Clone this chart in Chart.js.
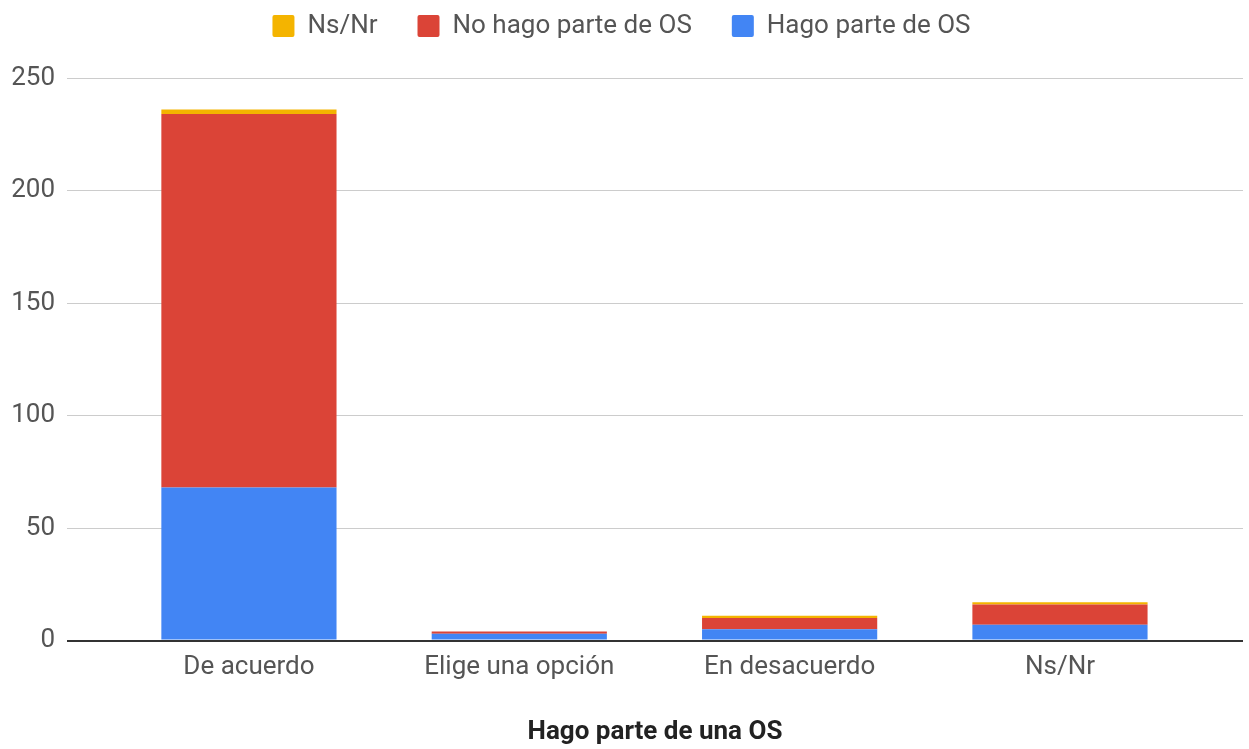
<!DOCTYPE html>
<html>
<head>
<meta charset="utf-8">
<script src="https://cdn.jsdelivr.net/npm/chart.js@4.4.1/dist/chart.umd.min.js"></script>
<style>
html,body{margin:0;padding:0;background:#fff;}
#wrap{width:1249px;height:749px;}
</style>
</head>
<body>
<div id="wrap"><canvas id="c" width="1249" height="749"></canvas></div>
<script>
const categories = ["De acuerdo", "Elige una opción", "En desacuerdo", "Ns/Nr"];
const hagoParte = [68, 3, 5, 7];
const noHagoParte = [166, 1, 5, 9];
const nsNr = [2, 0, 1, 1];
const yTicks = [0, 50, 100, 150, 200, 250];
const xTitle = "Hago parte de una OS";

const toPts = arr => arr.map((v, i) => ({x: i, y: v}));

const legendHeightFix = {
  id: 'legendHeightFix',
  beforeInit(chart) {
    const L = chart.legend;
    if (!L) return;
    const orig = L.fit.bind(L);
    L.fit = function () { orig(); this.height = 105; };
  }
};

new Chart(document.getElementById('c'), {
  type: 'bar',
  data: {
    datasets: [
      {label: 'Hago parte de OS', data: toPts(hagoParte), backgroundColor: '#4285F4'},
      {label: 'No hago parte de OS', data: toPts(noHagoParte), backgroundColor: '#DB4437'},
      {label: 'Ns/Nr', data: toPts(nsNr), backgroundColor: '#F4B400'}
    ]
  },
  plugins: [legendHeightFix],
  options: {
    responsive: false,
    animation: false,
    layout: {padding: {left: 0, right: 6, top: -27, bottom: 0}},
    datasets: {bar: {categoryPercentage: 1, barPercentage: 0.648}},
    plugins: {
      legend: {
        position: 'top',
        reverse: true,
        labels: {
          font: {family: 'Roboto', size: 26},
          color: '#555',
          boxWidth: 22, boxHeight: 22,
          padding: 40,
          useBorderRadius: true, borderRadius: 2
        }
      },
      tooltip: {enabled: false}
    },
    scales: {
      x: {
        type: 'linear',
        stacked: true,
        offset: false,
        min: -0.673,
        max: 3.677,
        afterBuildTicks: s => { s.ticks = categories.map((c, i) => ({value: i})); },
        ticks: {
          callback: v => categories[v] ?? '',
          font: {family: 'Roboto', size: 26},
          color: '#555',
          padding: 11,
          maxRotation: 0,
          autoSkip: false
        },
        grid: {display: false, drawTicks: false},
        border: {display: false},
        title: {display: true, text: xTitle, font: {family: 'Roboto', size: 26, weight: 'bold'}, color: '#222', padding: {top: 23, bottom: 1}}
      },
      y: {
        stacked: true,
        min: 0, max: 250,
        afterBuildTicks: s => { s.ticks = yTicks.map(v => ({value: v})); },
        afterFit: s => { s.width = 67; },
        ticks: {font: {family: 'Roboto', size: 26}, color: '#555', padding: 12},
        grid: {
          color: ctx => ctx.tick && ctx.tick.value === 0 ? '#333' : '#ccc',
          lineWidth: ctx => ctx.tick && ctx.tick.value === 0 ? 2 : 1,
          drawTicks: false
        },
        border: {display: false}
      }
    }
  }
});
</script>
</body>
</html>
